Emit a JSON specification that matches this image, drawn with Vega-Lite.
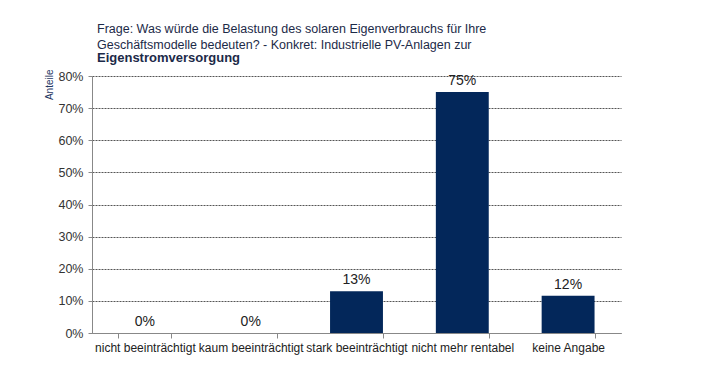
{
  "$schema": "https://vega.github.io/schema/vega-lite/v6.json",
  "autosize": "none",
  "width": 529,
  "height": 257,
  "padding": {"left": 92, "top": 76, "right": 87, "bottom": 34},
  "background": "white",
  "title": {
    "text": ["Frage: Was würde die Belastung des solaren Eigenverbrauchs für Ihre", "Geschäftsmodelle bedeuten? - Konkret: Industrielle PV-Anlagen zur"],
    "subtitle": "Eigenstromversorgung",
    "anchor": "start",
    "frame": "group",
    "dx": 5,
    "font": "Liberation Sans",
    "fontSize": 12.5,
    "fontWeight": "normal",
    "color": "#1c2a48",
    "lineHeight": 16,
    "subtitleFont": "Liberation Sans",
    "subtitleFontSize": 13,
    "subtitleFontWeight": "bold",
    "subtitleColor": "#1c2a48",
    "subtitlePadding": 1,
    "subtitleLineHeight": 16,
    "offset": 4
  },
  "data": {
    "values": [
      {"kategorie": "nicht beeinträchtigt", "anteil": 0},
      {"kategorie": "kaum beeinträchtigt", "anteil": 0},
      {"kategorie": "stark beeinträchtigt", "anteil": 0.13},
      {"kategorie": "nicht mehr rentabel", "anteil": 0.75},
      {"kategorie": "keine Angabe", "anteil": 0.116}
    ]
  },
  "encoding": {
    "x": {
      "field": "kategorie",
      "type": "nominal",
      "sort": null,
      "scale": {"paddingInner": 0.5, "paddingOuter": 0.25},
      "axis": {
        "title": null,
        "labelAngle": 0,
        "labelFont": "Liberation Sans",
        "labelFontSize": 12,
        "labelColor": "#222222",
        "labelPadding": 4,
        "tickBand": "extent",
        "tickSize": 5,
        "tickColor": "#888888",
        "domainColor": "#888888",
        "grid": false
      }
    },
    "y": {
      "field": "anteil",
      "type": "quantitative",
      "scale": {"domain": [0, 0.8], "nice": false},
      "axis": {
        "title": "Anteile",
        "titleFont": "Liberation Sans",
        "titleFontSize": 10,
        "titleFontWeight": "normal",
        "titleColor": "#1f3864",
        "titleAngle": -90,
        "titleX": -43,
        "titleY": -7,
        "titleAlign": "right",
        "titleBaseline": "middle",
        "format": ".0%",
        "values": [0, 0.1, 0.2, 0.3, 0.4, 0.5, 0.6, 0.7, 0.8],
        "labelFont": "Liberation Sans",
        "labelFontSize": 12.5,
        "labelColor": "#333333",
        "labelPadding": 5,
        "tickSize": 4,
        "tickColor": "#888888",
        "domainColor": "#888888",
        "grid": true,
        "gridColor": "#555555",
        "gridDash": [2, 1],
        "gridWidth": 1
      }
    }
  },
  "layer": [
    {"mark": {"type": "bar", "color": "#03275a"}},
    {
      "mark": {"type": "text", "baseline": "bottom", "dy": -4, "font": "Liberation Sans", "fontSize": 14, "color": "#222222"},
      "encoding": {"text": {"field": "anteil", "type": "quantitative", "format": ".0%"}}
    }
  ],
  "config": {"view": {"stroke": null}}
}
